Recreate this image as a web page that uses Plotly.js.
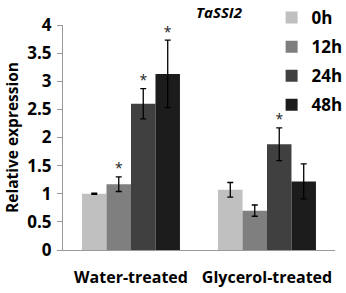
<!DOCTYPE html>
<html><head><meta charset="utf-8">
<script src="https://cdn.plot.ly/plotly-3.0.1.min.js"></script>
<style>html,body{margin:0;padding:0;background:#fff}#c{width:346px;height:293px}</style>
</head><body><div id="c"></div>
<script>
const categories = ['Water-treated', 'Glycerol-treated'];
const seriesNames = ['0h', '12h', '24h', '48h'];
const values = [
  [1.00, 1.07],
  [1.17, 0.70],
  [2.60, 1.88],
  [3.13, 1.22]
];
const errors = [
  [0.01, 0.13],
  [0.13, 0.10],
  [0.27, 0.29],
  [0.60, 0.31]
];
const marks = [
  ['', ''],
  ['*', ''],
  ['*', '*'],
  ['*', '']
];
const colors = ['#c0c0c0', '#7f7f7f', '#404040', '#1c1c1c'];
const F = 'Open Sans, Liberation Sans, sans-serif';

const traces = [];
seriesNames.forEach((n, i) => {
  traces.push({
    type: 'bar', name: n, x: categories, y: values[i],
    marker: {color: colors[i], line: {width: 0}},
    error_y: {type: 'data', array: errors[i], visible: true, color: '#000', thickness: 1.3, width: 3},
    offsetgroup: String(i), legendgroup: String(i)
  });
});
seriesNames.forEach((n, i) => {
  traces.push({
    type: 'scatter', mode: 'text', x: categories,
    y: values[i].map((v, j) => v + errors[i][j]),
    text: marks[i], textposition: 'top center',
    textfont: {family: F, size: 14, color: '#222'},
    offsetgroup: String(i), showlegend: false, hoverinfo: 'skip', cliponaxis: false
  });
});

Plotly.newPlot('c', traces, {
  width: 346, height: 293,
  margin: {l: 63, r: 11, t: 25, b: 43, autoexpand: false},
  paper_bgcolor: '#fff', plot_bgcolor: '#fff',
  barmode: 'group', scattermode: 'group', bargap: 0.28, bargroupgap: 0,
  title: {text: '<b><i>TaSSI2</i></b>', font: {family: F, size: 15, color: '#000'}, x: 0.633, xanchor: 'center', y: 0.958, yanchor: 'middle'},
  xaxis: {automargin: false, showline: true, linecolor: '#999', linewidth: 1, ticks: '', tickangle: 0, tickfont: {family: F, size: 16, color: '#000', weight: 'bold'}, ticklabelstandoff: 13, showgrid: false, zeroline: false},
  yaxis: {automargin: false, range: [0, 4], dtick: 0.5, showline: true, linecolor: '#999', linewidth: 1, ticks: 'outside', ticklen: 5, tickcolor: '#999', showgrid: false, zeroline: false,
    tickfont: {family: F, size: 17, color: '#000', weight: 'bold'}, ticklabelstandoff: 2,
    title: {text: '<b>Relative expression</b>', font: {family: F, size: 15.5, color: '#000'}, standoff: 4}},
  legend: {xref: 'container', yref: 'container', x: 0.785, y: 1.0, xanchor: 'left', yanchor: 'top', font: {family: F, size: 17, color: '#000', weight: 'bold'}, traceorder: 'grouped', tracegroupgap: 4, bgcolor: 'rgba(0,0,0,0)', itemwidth: 30},
  showlegend: true
}, {displayModeBar: false, staticPlot: true});
</script></body></html>
